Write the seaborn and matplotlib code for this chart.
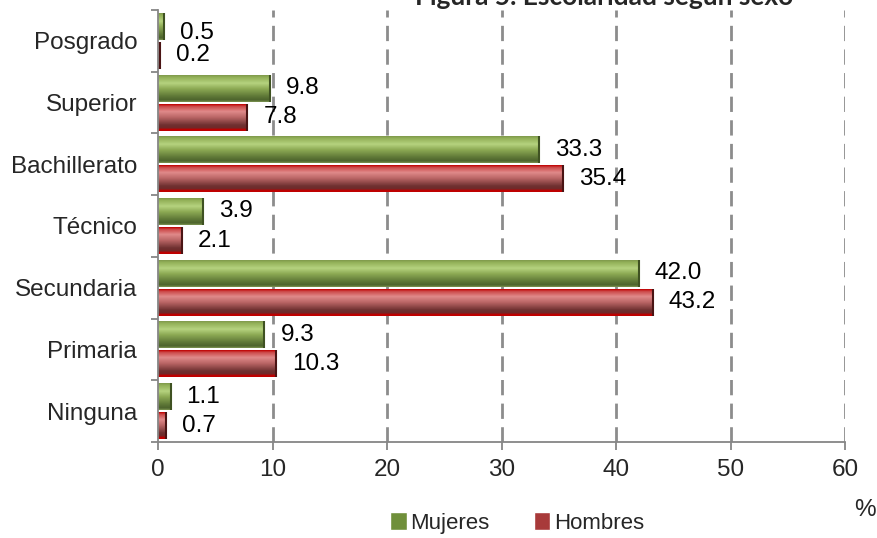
import matplotlib
matplotlib.use("Agg")
import matplotlib.pyplot as plt
import seaborn as sns
import numpy as np
import pandas as pd
from matplotlib.colors import LinearSegmentedColormap

categories = ["Posgrado", "Superior", "Bachillerato", "Técnico", "Secundaria", "Primaria", "Ninguna"]
mujeres = [0.5, 9.8, 33.3, 3.9, 42.0, 9.3, 1.1]
hombres = [0.2, 7.8, 35.4, 2.1, 43.2, 10.3, 0.7]
series = ["Mujeres", "Hombres"]
xticks = [0, 10, 20, 30, 40, 50, 60]
title = "Figura 5. Escolaridad según sexo"

df = pd.DataFrame({
    "cat": categories * 2,
    "val": mujeres + hombres,
    "sexo": [series[0]] * len(categories) + [series[1]] * len(categories),
})

sns.set_theme(style="white")
plt.rcParams['font.family'] = ['Liberation Sans', 'DejaVu Sans']

W, H = 877, 538
fig = plt.figure(figsize=(W / 100, H / 100), dpi=100)
ax = fig.add_axes([158 / W, 1 - 442 / H, (845 - 158) / W, (442 - 10) / H])

green_base = "#6f8f3a"
red_base = "#a83a3a"
sns.barplot(data=df, y="cat", x="val", hue="sexo", order=categories, hue_order=series,
            palette=[green_base, red_base], orient="h", width=0.94, gap=0.07,
            ax=ax, legend=True, saturation=1)

green_cmap = LinearSegmentedColormap.from_list("g", [
    (0.0, "#7f9a4c"), (0.08, "#93b158"), (0.3, "#b5d27f"), (0.5, "#8eab55"),
    (0.75, "#657f3b"), (0.93, "#4c632c"), (1.0, "#7b9350")])
red_cmap = LinearSegmentedColormap.from_list("r", [
    (0.0, "#c00000"), (0.08, "#cc4a4a"), (0.27, "#e08a8a"), (0.5, "#b86464"),
    (0.78, "#6f3131"), (0.9, "#702828"), (0.94, "#c00000"), (1.0, "#c00000")])
end_colors = ["#3f5222", "#4a1414"]

grad = np.linspace(0, 1, 64).reshape(-1, 1)
for cont, cmap, ec in zip(ax.containers, [green_cmap, red_cmap], end_colors):
    for p in cont.patches:
        x0, y0 = p.get_x(), p.get_y()
        w, h = p.get_width(), p.get_height()
        ymin, ymax = min(y0, y0 + h), max(y0, y0 + h)
        ax.imshow(grad, cmap=cmap, aspect="auto", origin="upper",
                  extent=(x0, x0 + w, ymax, ymin), zorder=p.get_zorder() + 0.1,
                  interpolation="bilinear")
        ax.vlines(x0 + w, ymin, ymax, color=ec, lw=1.5, zorder=p.get_zorder() + 0.2)
        p.set_edgecolor("none")

label_sets = []
for cont in ax.containers:
    label_sets.append(ax.bar_label(cont, fmt="%.1f", padding=11.5, fontsize=17.5, color="black"))
# Excel nudged the top-most label slightly downward
first = label_sets[0][0]
ox, oy = first.xyann
first.xyann = (ox, oy - 5)

ax.set_xlim(0, 60)
ax.set_ylim(len(categories) - 0.5, -0.5)
ax.set_xticks(xticks)
ax.set_xticklabels([str(t) for t in xticks], fontsize=17.5)
ax.set_yticks(range(len(categories)))
ax.set_yticklabels(categories, fontsize=17.5)
ax.set_yticks(np.arange(-0.5, len(categories), 1), minor=True)
ax.tick_params(axis="y", which="major", length=0, pad=15)
ax.tick_params(axis="y", which="minor", length=5, width=1.3, color="#868686", direction="out", left=True)
ax.tick_params(axis="x", which="major", length=6, width=1.3, color="#868686", direction="out", bottom=True, pad=6)
ax.set_xlabel("")
ax.set_ylabel("")

for s in ["top", "right"]:
    ax.spines[s].set_visible(False)
for s in ["left", "bottom"]:
    ax.spines[s].set_color("#868686")
    ax.spines[s].set_linewidth(1.3)

for t in xticks[1:]:
    ax.axvline(t, color="#8c8c8c", lw=2, linestyle=(0, (5.5, 3)), zorder=0.5)

handles, labels = ax.get_legend_handles_labels()
ax.get_legend().remove()
fig.legend(handles, labels, loc="center", bbox_to_anchor=(517 / W, 1 - 523 / H), ncol=2,
           frameon=False, fontsize=16, handlelength=0.75, handleheight=0.85,
           handletextpad=0.15, columnspacing=2.0)

fig.text(865 / W, 1 - 510 / H, "%", fontsize=17.5, ha="center", va="center")
fig.text(604 / W, 1 - 5 / H, title, fontsize=19, fontweight="bold", ha="center", va="baseline",
         family=["Lato", "DejaVu Sans"])

fig.savefig("out.png", dpi=100)
